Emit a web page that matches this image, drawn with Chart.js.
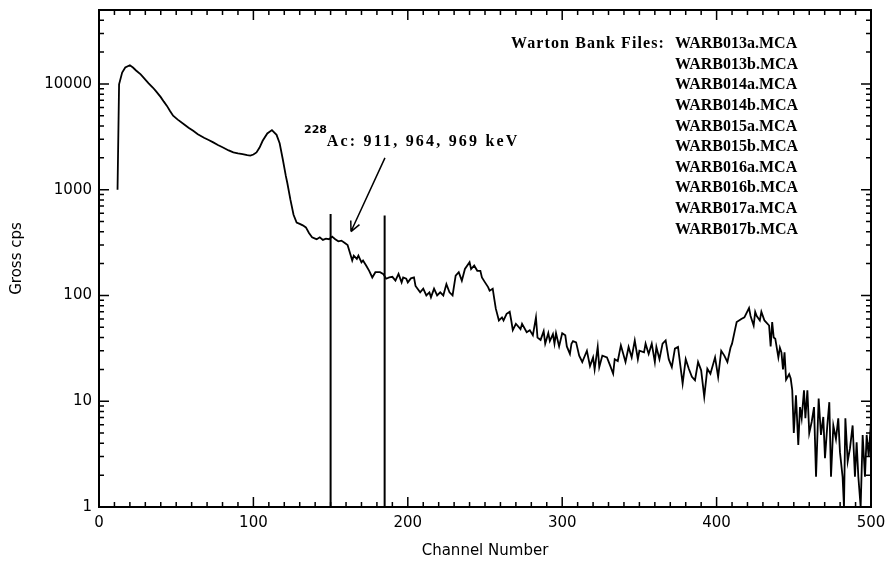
<!DOCTYPE html>
<html>
<head>
<meta charset="utf-8">
<script src="https://cdn.jsdelivr.net/npm/chart.js@4/dist/chart.umd.min.js"></script>
<style>html,body{margin:0;padding:0;background:#fff;}canvas{display:block;}</style>
</head>
<body>
<canvas id="c" width="888" height="570"></canvas>
<script>
// ---- data ----
const channels = [
  12,13,15,17,20,22,24,27,30,32,
  35,37,40,42,44,46,48,51,55,58,
  61,64,68,71,74,77,80,84,87,90,
  93,96,98,100,102,104,106,109,112,115,
  117,119,121,122,124,126,128,130,132,134,
  136,138,140,141,143,145,147,149,151,153,
  155,157,159,161,163,164,165,167,168,170,
  171,173,175,177,179,182,184,186,188,190,
  192,194,196,197,199,200,202,204,205,208,
  210,212,214,215,217,219,221,223,225,227,
  229,231,233,235,237,240,241,243,245,247,
  248,250,252,253,255,256,257,259,261,262,
  264,266,267,268,270,273,274,277,279,281,
  283,284,286,288,289,291,292,294,295,296,
  298,300,302,303,305,306,307,309,311,313,
  316,318,320,321,323,324,326,329,331,333,
  334,336,338,341,343,345,347,349,350,353,
  354,356,358,360,361,363,365,367,369,371,
  373,375,378,380,382,384,386,388,390,392,
  394,396,399,401,403,405,407,409,410,412,
  413,416,418,421,422,424,425,426,428,429,
  431,432,434,435,436,437,438,440,441,442,
  443,444,445,447,448,449,450,451.4,452.9,454,
  455.1,456.6,457.5,458.8,460,461.6,463.1,464.4,466.1,467.6,
  469.1,470.2,471.7,473,474.1,475.6,477.3,478.8,479.9,481.6,
  482.5,483.4,484.9,486.4,488.1,489.6,490.7,491.8,493.3,494.6,
  496.1,497.2,498.5,500
];
const grossCps = [
  1000,9900,12800,14300,15000,14300,13400,12300,11000,10200,
  9200,8500,7500,6800,6200,5550,5000,4600,4150,3850,
  3600,3350,3100,2950,2800,2650,2520,2350,2250,2200,
  2170,2120,2100,2150,2250,2500,2900,3400,3660,3300,
  2750,1950,1350,1150,800,580,490,475,460,440,
  390,355,345,340,355,335,345,340,360,340,
  325,330,315,300,240,214,238,222,238,206,
  214,192,171,148,166,166,160,144,148,150,
  138,160,133,148,144,133,145,148,123,107,
  116,100,107,96,116,100,107,100,128,107,
  100,154,166,138,178,206,178,192,171,171,
  148,133,120,111,116,93,75,58,62,58,
  67,70,58,47,54,48,54,45,47,42,
  62,40,38,46,35,44,37,43,35,44,
  33,44,42,33,28,35,37,36,27,23.5,
  30,21.5,26,20,32.6,21,27,26,21.8,18.2,
  25,24,33.8,23.5,32.6,26,37.6,25,30,29,
  35,28,35,23.5,32.6,25,35,37.6,25,21,
  31.4,32.6,14.7,25,20.3,17,15.8,23.5,19.6,11,
  20.3,18.2,26,17,30,27,23.5,32,35,48,
  56,60,62,76,64,52,70,64,58,70,
  58,56,52,33,56,40,39,26,32,29,
  20,29,16,18,16.4,12.7,5,11.4,3.85,8.8,
  6.9,12.7,6.9,12.7,5,6.4,8.8,1.93,10.6,4.8,
  7.1,2.9,5.9,9.8,1.93,5.9,4.4,6.9,3.3,1.93,
  1,6.9,2.7,3.6,5.9,1.93,4.1,1.93,1,4.8,
  1.93,4.8,3,6.5
];
const markerChannels = [150, 185];
const markerTops = [590, 570];
const xTickValues = [0, 100, 200, 300, 400, 500];
const yTickValues = [1, 10, 100, 1000, 10000];
const xTitle = 'Channel Number';
const yTitle = 'Gross cps';
const legendHeading = 'Warton Bank Files:';
const fileNames = ['WARB013a.MCA','WARB013b.MCA','WARB014a.MCA','WARB014b.MCA','WARB015a.MCA',
                   'WARB015b.MCA','WARB016a.MCA','WARB016b.MCA','WARB017a.MCA','WARB017b.MCA'];
const isotopeMass = '228';
const isotopeText = 'Ac: 911, 964, 969 keV';
const arrowStart = [185.2, 2000];
const arrowEnd = [163.2, 402];
const isotopeMassAt = [132.8, 3450];
const isotopeTextAt = [147.5, 2600];

// ---- chart ----
const spectrum = channels.map((c, i) => ({x: c, y: grossCps[i]}));
const markerSets = markerChannels.map((c, i) => ({
  data: [{x: c, y: 1}, {x: c, y: markerTops[i]}],
  borderColor: '#000', borderWidth: 2, pointRadius: 0, fill: false
}));

const framePlugin = {
  id: 'frame',
  afterDraw(chart) {
    const {ctx, chartArea: a, scales: {x, y}} = chart;
    ctx.save();
    ctx.strokeStyle = '#000';
    ctx.fillStyle = '#000';
    // inward tick marks
    ctx.lineWidth = 1.5;
    ctx.beginPath();
    for (let v = 0; v <= 500; v += 10) {
      const px = x.getPixelForValue(v);
      const len = v % 100 === 0 ? 10 : 5;
      ctx.moveTo(px, a.bottom); ctx.lineTo(px, a.bottom - len);
      ctx.moveTo(px, a.top); ctx.lineTo(px, a.top + len);
    }
    for (let d = 0; d <= 4; d++) {
      for (let m = 1; m <= 9; m++) {
        const v = m * Math.pow(10, d);
        if (v > y.max) break;
        const py = y.getPixelForValue(v);
        const len = m === 1 ? 10 : 5;
        ctx.moveTo(a.left, py); ctx.lineTo(a.left + len, py);
        ctx.moveTo(a.right, py); ctx.lineTo(a.right - len, py);
      }
    }
    ctx.stroke();
    // frame
    ctx.lineWidth = 2;
    ctx.strokeRect(a.left, a.top, a.right - a.left, a.bottom - a.top);
    // arrow
    const x1 = x.getPixelForValue(arrowStart[0]), y1 = y.getPixelForValue(arrowStart[1]);
    const x2 = x.getPixelForValue(arrowEnd[0]), y2 = y.getPixelForValue(arrowEnd[1]);
    const ang = Math.atan2(y2 - y1, x2 - x1);
    ctx.lineWidth = 1.5;
    ctx.beginPath();
    ctx.moveTo(x1, y1); ctx.lineTo(x2, y2);
    ctx.moveTo(x2, y2); ctx.lineTo(x2 - 11 * Math.cos(ang - 0.45), y2 - 11 * Math.sin(ang - 0.45));
    ctx.moveTo(x2, y2); ctx.lineTo(x2 - 11 * Math.cos(ang + 0.45), y2 - 11 * Math.sin(ang + 0.45));
    ctx.stroke();
    // annotation
    ctx.textBaseline = 'alphabetic';
    ctx.textAlign = 'left';
    ctx.font = 'bold 11px "DejaVu Sans"';
    ctx.fillText(isotopeMass, x.getPixelForValue(isotopeMassAt[0]), y.getPixelForValue(isotopeMassAt[1]));
    ctx.font = 'bold 16px "Liberation Serif"';
    ctx.letterSpacing = '2.2px';
    ctx.fillText(isotopeText, x.getPixelForValue(isotopeTextAt[0]), y.getPixelForValue(isotopeTextAt[1]));
    // legend block
    ctx.textBaseline = 'middle';
    ctx.letterSpacing = '1.1px';
    ctx.fillText(legendHeading, a.left + 412, a.top + 34);
    ctx.letterSpacing = '0px';
    fileNames.forEach((f, i) => {
      ctx.fillText(f, a.left + 576, a.top + 34 + i * 20.6);
    });
    ctx.restore();
  }
};

Chart.defaults.font.family = '"DejaVu Sans", sans-serif';
Chart.defaults.color = '#000';

new Chart(document.getElementById('c'), {
  type: 'line',
  data: {
    datasets: [
      {data: spectrum, borderColor: '#000', borderWidth: 1.8, pointRadius: 0, tension: 0, fill: false},
      ...markerSets
    ]
  },
  options: {
    responsive: false,
    devicePixelRatio: 1,
    animation: false,
    layout: {padding: {left: 0, right: 17, top: 10, bottom: 0}},
    plugins: {legend: {display: false}, tooltip: {enabled: false}},
    scales: {
      x: {
        type: 'linear', min: 0, max: 500,
        grid: {display: false, drawTicks: false},
        border: {display: false},
        afterBuildTicks: s => { s.ticks = xTickValues.map(v => ({value: v})); },
        ticks: {font: {size: 15}, color: '#000', padding: 7, maxRotation: 0, autoSkip: false,
                callback: v => String(v)},
        title: {display: true, text: xTitle, font: {size: 15}, color: '#000', padding: {top: 0, bottom: 10}},
        afterFit: s => { s.height = 63; s.paddingLeft = 0; s.paddingRight = 0; }
      },
      y: {
        type: 'logarithmic', min: 1, max: 50000,
        grid: {display: false, drawTicks: false},
        border: {display: false},
        afterBuildTicks: s => { s.ticks = yTickValues.map(v => ({value: v})); },
        ticks: {font: {size: 15}, color: '#000', padding: 7, autoSkip: false,
                callback: v => String(v)},
        title: {display: true, text: yTitle, font: {size: 15}, color: '#000', padding: {top: 8}},
        afterFit: s => { s.width = 99; s.paddingTop = 0; s.paddingBottom = 0; }
      }
    }
  },
  plugins: [framePlugin]
});
</script>
</body>
</html>
